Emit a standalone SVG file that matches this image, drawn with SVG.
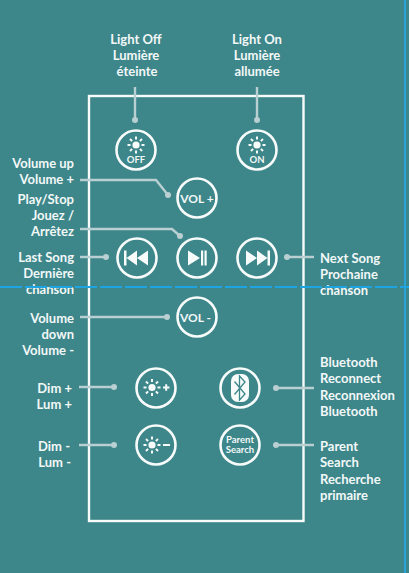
<svg xmlns="http://www.w3.org/2000/svg" width="409" height="573" viewBox="0 0 409 573">
<style>
text{font-family:"Lato","Liberation Sans",sans-serif;fill:#f2f8f7;font-weight:700}
.l{font-size:13px;text-anchor:end}
.r{font-size:13px;text-anchor:start}
.c{font-size:13px;text-anchor:middle}
.b{fill:none;stroke:#f7fbfa;stroke-width:2.600}
.k{fill:none;stroke:#b9cfd2;stroke-width:2.400}
.d{fill:#b9cfd2}
.i{font-size:9.500px;text-anchor:middle;font-weight:700}
.v{font-size:12px;text-anchor:middle}
.s{stroke:#f7fbfa;stroke-width:2;fill:none}
.f{fill:#f7fbfa}
</style>
<defs>
<g id="sun"><circle r="3.600" class="f"/><path class="s" d="M0-5.500V-8.500M0 5.500V8.500M-5.500 0H-8.500M5.500 0H8.500M-3.900-3.900L-6-6M3.900-3.900L6-6M-3.900 3.900L-6 6M3.900 3.900L6 6"/></g>
</defs>
<rect width="409" height="573" fill="#3d868a"/>
<rect x="404" y="0" width="2" height="573" fill="#2aa3d8"/>
<rect x="89" y="96" width="214.500" height="425" fill="none" stroke="#f7fbfa" stroke-width="2.400"/>
<g id="connectors">
<path class="k" d="M135 87V120M257 87V120M80 180H156L168 195M80 229H172L180 236M80 257H106M314 257H287M80 317H167M79 387H114M314 388H276M79 445H114M314 445H276"/>
<circle class="d" cx="135" cy="120" r="3"/><circle class="d" cx="257" cy="120" r="3"/><circle class="d" cx="168" cy="195" r="3"/><circle class="d" cx="180" cy="236" r="3"/><circle class="d" cx="106" cy="257" r="3"/><circle class="d" cx="287" cy="257" r="3"/><circle class="d" cx="167" cy="317" r="3"/><circle class="d" cx="114" cy="387" r="3"/><circle class="d" cx="276" cy="388" r="3"/><circle class="d" cx="114" cy="445" r="3"/><circle class="d" cx="276" cy="445" r="3"/>
</g>
<g id="light-off"><circle class="b" cx="136" cy="150" r="19.500"/><use href="#sun" transform="translate(136 145)"/><text class="i" x="136" y="162.500">OFF</text>
<text class="c" x="136" y="44">Light Off</text><text class="c" x="136" y="60">Lumière</text><text class="c" x="137" y="76">éteinte</text></g>
<g id="light-on"><circle class="b" cx="257" cy="150" r="19.500"/><use href="#sun" transform="translate(257 145)"/><text class="i" x="257" y="162.500">ON</text>
<text class="c" x="257" y="44">Light On</text><text class="c" x="257" y="60">Lumière</text><text class="c" x="257" y="76">allumée</text></g>
<g id="vol-up"><circle class="b" cx="197" cy="198" r="19.500"/><text class="v" x="197" y="202.500">VOL +</text>
<text class="l" x="74" y="168">Volume up</text><text class="l" x="74" y="184">Volume +</text></g>
<g id="play"><circle class="b" cx="197" cy="258" r="19.500"/><path class="f" d="M188 250.500L200 258L188 265.500Z"/><rect class="f" x="201" y="250.500" width="2.200" height="15"/><rect class="f" x="204.500" y="250.500" width="2.200" height="15"/>
<text class="l" x="74" y="204">Play/Stop</text><text class="l" x="74" y="220">Jouez /</text><text class="l" x="74" y="236">Arrêtez</text></g>
<g id="last"><circle class="b" cx="137" cy="258" r="19.500"/><path class="f" d="M124 250.500H126.500V265.500H124ZM137 250.500V265.500L126.500 258ZM148 250.500V265.500L137 258Z"/>
<text class="l" x="74" y="262">Last Song</text><text class="l" x="74" y="278">Dernière</text><text class="l" x="74" y="294">chanson</text></g>
<g id="next"><circle class="b" cx="257" cy="258" r="19.500"/><path class="f" d="M246 250.500V265.500L257 258ZM257 250.500V265.500L267.500 258ZM267.500 250.500H270V265.500H267.500Z"/>
<text class="r" x="320" y="263">Next Song</text><text class="r" x="320" y="279">Prochaine</text><text class="r" x="320" y="295">chanson</text></g>
<g id="vol-down"><circle class="b" cx="197" cy="317" r="19.500"/><text class="v" x="195.500" y="321.500">VOL -</text>
<text class="l" x="74" y="323">Volume</text><text class="l" x="74" y="339">down</text><text class="l" x="74" y="355">Volume -</text></g>
<g id="dim-plus"><circle class="b" cx="156" cy="388" r="19.500"/><use href="#sun" transform="translate(152 387.500)"/><path class="s" d="M163 387.500H169.500M166.200 384.300V390.800"/>
<text class="l" x="72" y="393">Dim +</text><text class="l" x="72" y="409">Lum +</text></g>
<g id="bluetooth"><circle class="b" cx="240" cy="388" r="19.500"/><rect class="f" x="231" y="374" width="18" height="28" rx="7"/><path d="M234.500 381.500L245 394L239.500 400V376L245 382L234.500 394.500" fill="none" stroke="#3d868a" stroke-width="1.300"/>
<text class="r" x="320" y="367">Bluetooth</text><text class="r" x="320" y="383">Reconnect</text><text class="r" x="320" y="400">Reconnexion</text><text class="r" x="320" y="416">Bluetooth</text></g>
<g id="dim-minus"><circle class="b" cx="156" cy="445" r="19.500"/><use href="#sun" transform="translate(152 445)"/><path class="s" d="M163 445H170"/>
<text class="l" x="70" y="451">Dim -</text><text class="l" x="71" y="467">Lum -</text></g>
<g id="parent-search"><circle class="b" cx="240" cy="445" r="19.500"/><text class="i" x="240" y="442.500">Parent</text><text class="i" x="240" y="452.500">Search</text>
<text class="r" x="320" y="451">Parent</text><text class="r" x="320" y="467">Search</text><text class="r" x="320" y="484">Recherche</text><text class="r" x="320" y="500">primaire</text></g>
<line x1="0" y1="287" x2="409" y2="287" stroke="#1ea4e0" stroke-width="2" stroke-dasharray="22 3"/>
</svg>
